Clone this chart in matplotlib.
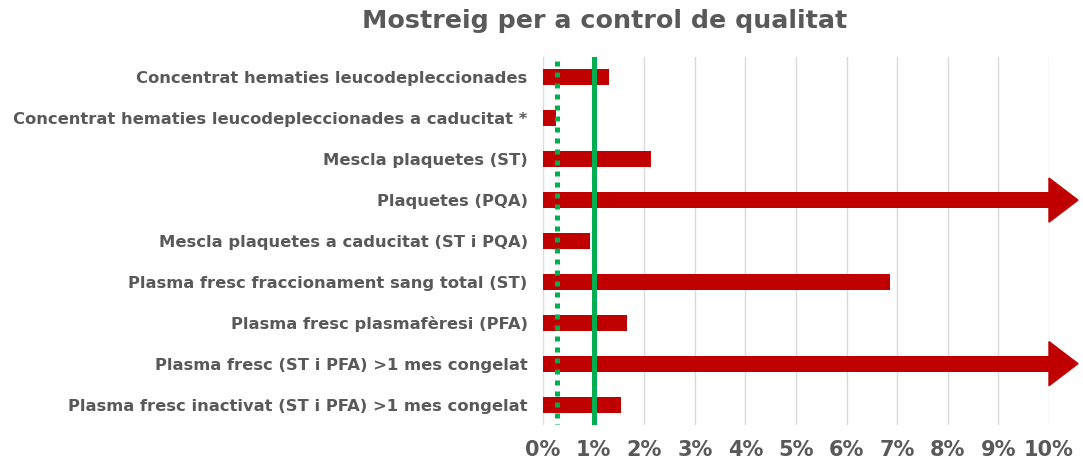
import matplotlib
matplotlib.use("Agg")
import matplotlib.pyplot as plt
from matplotlib.patches import Polygon

categories = [
    "Concentrat hematies leucodepleccionades",
    "Concentrat hematies leucodepleccionades a caducitat *",
    "Mescla plaquetes (ST)",
    "Plaquetes (PQA)",
    "Mescla plaquetes a caducitat (ST i PQA)",
    "Plasma fresc fraccionament sang total (ST)",
    "Plasma fresc plasmafèresi (PFA)",
    "Plasma fresc (ST i PFA) >1 mes congelat",
    "Plasma fresc inactivat (ST i PFA) >1 mes congelat",
]
values = [1.30, 0.26, 2.13, 10.0, 0.93, 6.86, 1.66, 10.0, 1.54]
overflow = [False, False, False, True, False, False, False, True, False]
ref_dotted = 0.28
ref_solid = 1.0
tick_values = list(range(0, 11))
tick_labels = [f"{v}%" for v in tick_values]

title = "Mostreig per a control de qualitat"
gray = "#595959"
red = "#C00000"
green = "#00B050"

fig = plt.figure(figsize=(10.83, 4.61), dpi=100)
ax = fig.add_axes([543 / 1083, 1 - 425 / 461, (1049 - 543) / 1083, (425 - 57) / 461])

n = len(categories)
ypos = list(range(n))
bar_h = 0.39
ax.barh(ypos, values, height=bar_h, color=red, zorder=2)

ax.set_xlim(0, 10)
ax.set_ylim(n - 0.5, -0.5)

# arrow heads for values beyond the axis
head_len = 0.573
head_half = 0.54
for y, v, of in zip(ypos, values, overflow):
    if of:
        x0 = ax.get_xlim()[1]
        poly = Polygon([[x0, y - head_half], [x0 + head_len, y], [x0, y + head_half]],
                       closed=True, color=red, clip_on=False, zorder=3)
        ax.add_patch(poly)

ax.axvline(ref_solid, color=green, lw=3.6, zorder=4, ymin=-0.01, ymax=1)
ax.axvline(ref_dotted, color=green, lw=3.6, zorder=4, linestyle=(0, (1, 1.2)),
           dash_capstyle="butt", ymin=-0.01, ymax=1)

ax.set_xticks(tick_values)
ax.set_xticklabels(tick_labels, fontsize=15, fontweight="bold", color=gray)
ax.set_yticks(ypos)
ax.set_yticklabels(categories, fontsize=11.8, fontweight="bold", color=gray)
ax.tick_params(axis="both", length=0)
ax.tick_params(axis="x", pad=11)
ax.tick_params(axis="y", pad=11)
ax.grid(axis="x", color="#D9D9D9", lw=1, zorder=0)
ax.set_axisbelow(True)
for s in ax.spines.values():
    s.set_visible(False)

fig.text(605 / 1083, 1 - 21 / 461, title, ha="center", va="center",
         fontsize=18.3, fontweight="bold", color=gray)

fig.savefig("out.png", dpi=100)
